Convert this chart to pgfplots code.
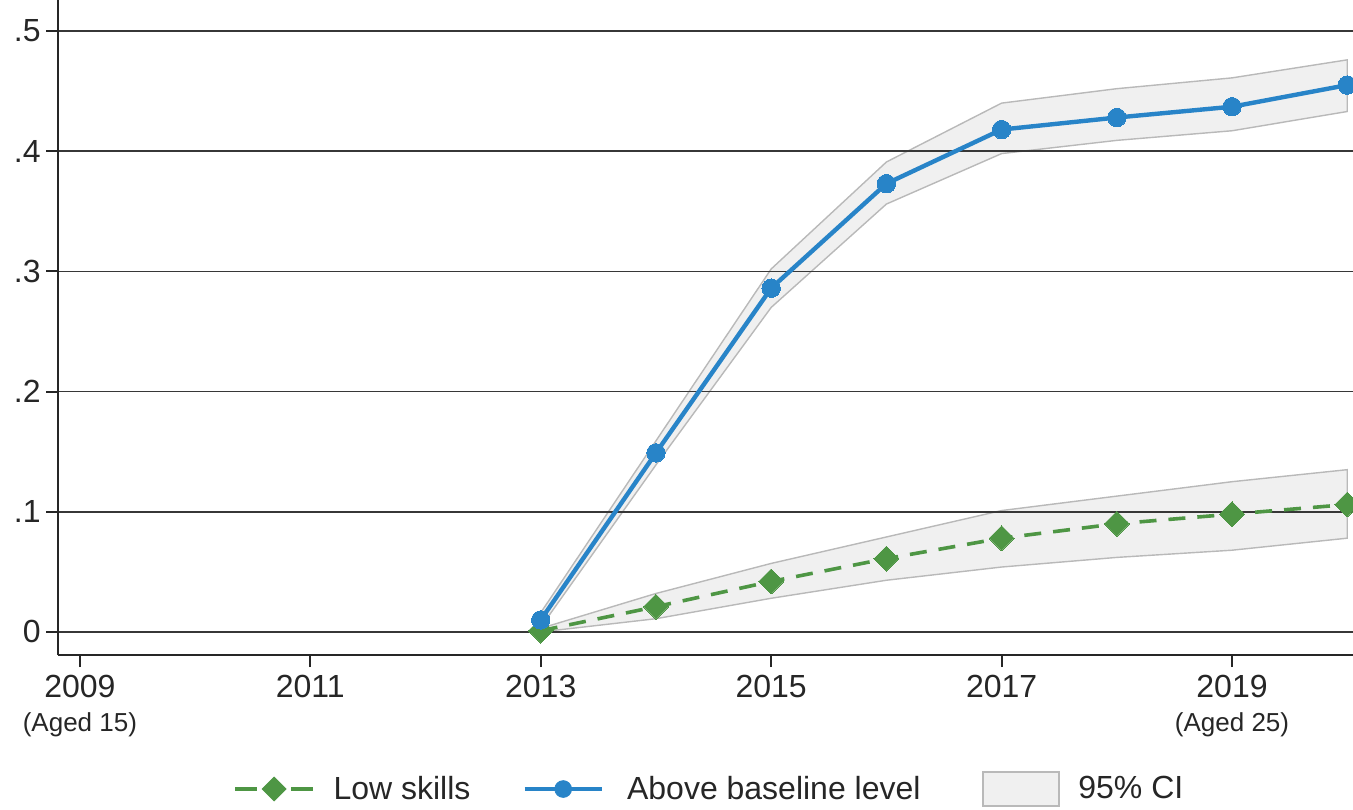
\documentclass[border=0pt]{standalone}
\usepackage{fontspec}
\setmainfont{Liberation Sans}
\usepackage{pgfplots}
\usepackage{pgfplotstable}
\pgfplotsset{compat=1.18}
\usepgfplotslibrary{fillbetween}

\definecolor{lowgreen}{RGB}{78,150,68}
\definecolor{aboveblue}{RGB}{40,132,200}
\definecolor{cifill}{RGB}{240,240,240}
\definecolor{ciedge}{RGB}{185,185,185}
\definecolor{gridgray}{RGB}{55,55,55}

% Low skills: estimate with 95% confidence bounds
\pgfplotstableread{
year  est    lo     hi
2013  0.001  0.000  0.003
2014  0.021  0.011  0.032
2015  0.042  0.028  0.057
2016  0.061  0.043  0.079
2017  0.078  0.054  0.101
2018  0.090  0.062  0.113
2019  0.098  0.068  0.125
2020  0.106  0.078  0.135
}\lowskills

% Above baseline level: estimate with 95% confidence bounds
\pgfplotstableread{
year  est    lo     hi
2013  0.010  0.004  0.016
2014  0.149  0.139  0.159
2015  0.286  0.270  0.302
2016  0.373  0.356  0.391
2017  0.418  0.398  0.440
2018  0.428  0.409  0.452
2019  0.437  0.417  0.461
2020  0.455  0.433  0.476
}\abovebase

\begin{document}
\begin{tikzpicture}
\begin{axis}[
  set layers,
  scale only axis,
  width=647.5pt, height=327.5pt,
  xmin=2008.81, xmax=2020.05,
  ymin=-0.0192, ymax=0.5258,
  axis x line*=bottom, axis y line*=left,
  axis line style={line width=1.2pt, black!85},
  tick align=outside,
  major tick length=6pt,
  tick style={line width=1pt, black!85},
  xtick={2009,2011,2013,2015,2017,2019},
  xticklabels={{2009\\{\fontsize{13}{15}\selectfont (Aged 15)}},2011,2013,2015,2017,{2019\\{\fontsize{13}{15}\selectfont (Aged 25)}}},
  xticklabel style={align=center, font=\fontsize{16}{17}\selectfont, inner ysep=4pt, text=black!85},
  ytick={0,0.1,0.2,0.3,0.4,0.5},
  yticklabels={0,.1,.2,.3,.4,.5},
  yticklabel style={font=\fontsize{16}{17}\selectfont, inner xsep=2.5pt, text=black!85},
  ymajorgrids,
  major grid style={line width=0.8pt, gridgray},
  legend columns=3,
  legend style={at={(axis description cs:0.1351,-0.2046)}, anchor=west,
    draw=none, fill=none, inner sep=0pt,
    font=\fontsize{16}{19}\selectfont, text=black!85,
    /tikz/every even column/.append style={column sep=24pt}},
]
\coordinate (tl) at (rel axis cs:0,1);
\coordinate (br) at (rel axis cs:1,0);

% confidence bands
\addplot[name path=lowhi, draw=none, forget plot] table[x=year, y=hi]{\lowskills};
\addplot[name path=lowlo, draw=none, forget plot] table[x=year, y=lo]{\lowskills};
\addplot[fill=cifill, draw=ciedge, line width=0.7pt, forget plot]
  fill between[of=lowhi and lowlo, on layer=axis background];
\addplot[name path=abhi, draw=none, forget plot] table[x=year, y=hi]{\abovebase};
\addplot[name path=ablo, draw=none, forget plot] table[x=year, y=lo]{\abovebase};
\addplot[fill=cifill, draw=ciedge, line width=0.7pt, forget plot]
  fill between[of=abhi and ablo, on layer=axis background];

% point estimates
\addplot[lowgreen, line width=1.8pt, dash pattern=on 8.5pt off 6pt,
  mark=square*, mark size=4.4pt, mark options={solid, rotate=45, fill=lowgreen, draw=lowgreen, line width=0pt}, forget plot]
  table[x=year, y=est]{\lowskills};
\addplot[aboveblue, line width=2.2pt,
  mark=*, mark size=4.6pt, mark options={solid, fill=aboveblue, draw=aboveblue, line width=0pt}, forget plot]
  table[x=year, y=est]{\abovebase};

% legend keys (the invisible paths set the gap before each text)
\addlegendimage{legend image code/.code={
  \draw[lowgreen, line width=1.8pt] (0pt,0pt)--(11pt,0pt);
  \draw[lowgreen, line width=1.8pt] (28pt,0pt)--(39pt,0pt);
  \fill[lowgreen, rotate around={45:(19.5pt,0pt)}] (15.3pt,-4.2pt) rectangle (23.7pt,4.2pt);
  \path (47pt,0pt);}}
\addlegendentry{Low skills}
\addlegendimage{legend image code/.code={
  \draw[aboveblue, line width=2.2pt] (0pt,0pt)--(38.5pt,0pt);
  \fill[aboveblue] (19.25pt,0pt) circle (4.2pt);
  \path (49pt,0pt);}}
\addlegendentry{Above baseline level}
\addlegendimage{legend image code/.code={
  \path (-5pt,0pt);
  \draw[fill=cifill, draw=ciedge, line width=0.7pt] (0pt,-8.5pt) rectangle (38pt,8.5pt);
  \path (45.5pt,0pt);}}
\addlegendentry{95\% CI}
\end{axis}
\pgfresetboundingbox
\path[use as bounding box] ([xshift=-29pt]tl) rectangle ([yshift=-77pt]br);
\end{tikzpicture}
\end{document}
